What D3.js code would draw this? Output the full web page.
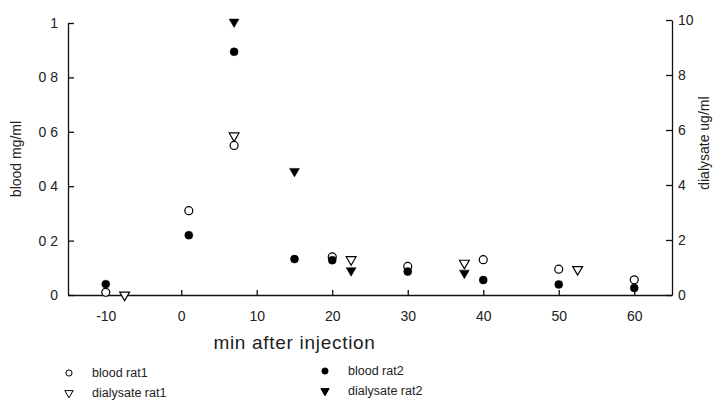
<!DOCTYPE html>
<html>
<head>
<meta charset="utf-8">
<script src="https://cdn.jsdelivr.net/npm/d3@7"></script>
<style>
  body { margin: 0; background: #fff; }
  text { font-family: "Liberation Sans", Arial, sans-serif; fill: #222; }
</style>
</head>
<body>
<div id="chart"></div>
<script>
// minutes after injection for each series
const bloodRat1X = [-10, 1, 7, 20, 30, 40, 50, 60];
const bloodRat1 = [0.01, 0.31, 0.55, 0.14, 0.105, 0.13, 0.095, 0.056];

const bloodRat2X = [-10, 1, 7, 15, 20, 30, 40, 50, 60];
const bloodRat2 = [0.04, 0.22, 0.894, 0.132, 0.128, 0.086, 0.055, 0.039, 0.026];

const dialRat1X = [-7.5, 7, 22.5, 37.5, 52.5];
const dialRat1 = [0, 5.79, 1.29, 1.16, 0.93];

const dialRat2X = [7, 15, 22.5, 37.5];
const dialRat2 = [9.93, 4.5, 0.89, 0.8];

const xTicks = [-10, 0, 10, 20, 30, 40, 50, 60];
const yLeftTicks = [0, 0.2, 0.4, 0.6, 0.8, 1];
const yLeftLabels = ["0", "0 2", "0 4", "0 6", "0 8", "1"];
const yRightTicks = [0, 2, 4, 6, 8, 10];

const legendNames = ["blood rat1", "blood rat2", "dialysate rat1", "dialysate rat2"];

const width = 716, height = 412;
const margin = {top: 23, right: 44, bottom: 117, left: 68};
const innerW = width - margin.left - margin.right;
const innerH = height - margin.top - margin.bottom;

const svg = d3.select("#chart").append("svg")
  .attr("width", width)
  .attr("height", height);

const g = svg.append("g")
  .attr("transform", `translate(${margin.left},${margin.top})`);

const x = d3.scaleLinear().domain([-15, 65]).range([0, innerW]);
const yL = d3.scaleLinear().domain([0, 1]).range([innerH, 0]);
const yR = d3.scaleLinear().domain([0, 10]).range([innerH, -3]);

// axes
const xAxis = g.append("g")
  .attr("transform", `translate(0,${innerH})`)
  .call(d3.axisBottom(x).tickValues(xTicks).tickFormat(d => String(d))
    .tickSize(-5).tickSizeOuter(0).tickPadding(16));

const leftAxis = g.append("g")
  .call(d3.axisLeft(yL).tickValues(yLeftTicks).tickFormat((d, i) => yLeftLabels[i])
    .tickSize(-6).tickSizeOuter(0).tickPadding(10));

const rightAxis = g.append("g")
  .attr("transform", `translate(${innerW},0)`)
  .call(d3.axisRight(yR).tickValues(yRightTicks).tickFormat(d => String(d))
    .tickSize(-6).tickSizeOuter(0).tickPadding(6));

[xAxis, leftAxis, rightAxis].forEach(a => {
  a.selectAll("path, line").attr("stroke", "#111").attr("stroke-width", 1.3);
  a.selectAll("text").attr("font-size", 14).attr("fill", "#222");
});

// axis labels
svg.append("text")
  .attr("transform", `translate(21,${margin.top + innerH * 0.5}) rotate(-90)`)
  .attr("text-anchor", "middle")
  .attr("font-size", 14)
  .text("blood mg/ml");

svg.append("text")
  .attr("transform", `translate(709,${margin.top + innerH * 0.46 - 5}) rotate(-90)`)
  .attr("text-anchor", "middle")
  .attr("font-size", 14)
  .text("dialysate ug/ml");

svg.append("text")
  .attr("x", margin.left + x(15))
  .attr("y", 349)
  .attr("text-anchor", "middle")
  .attr("font-size", 19)
  .attr("font-weight", 300)
  .attr("letter-spacing", 0.7)
  .attr("fill", "#333")
  .text("min after injection");

// markers
const circle = d3.symbol().type(d3.symbolCircle).size(50);
const tri = d3.symbol().type(d3.symbolTriangle).size(42);

function drawSeries(xs, ys, yScale, sym, filled, rotate) {
  g.append("g").selectAll("path")
    .data(xs.map((d, i) => ({x: d, y: ys[i]})))
    .join("path")
    .attr("d", sym)
    .attr("transform", d => `translate(${x(d.x)},${yScale(d.y)})${rotate ? " rotate(180)" : ""}`)
    .attr("fill", filled ? "#000" : "#fff")
    .attr("stroke", "#000")
    .attr("stroke-width", filled ? 0.5 : 1.2);
}

drawSeries(dialRat1X, dialRat1, yR, tri, false, true);
drawSeries(bloodRat1X, bloodRat1, yL, circle, false, false);
drawSeries(bloodRat2X, bloodRat2, yL, circle, true, false);
drawSeries(dialRat2X, dialRat2, yR, tri, true, true);

// legend
const legendSyms = [
  {type: d3.symbolCircle, filled: false, rot: false},
  {type: d3.symbolCircle, filled: true, rot: false},
  {type: d3.symbolTriangle, filled: false, rot: true},
  {type: d3.symbolTriangle, filled: true, rot: true}
];
const legend = svg.append("g");
legendNames.forEach((name, i) => {
  const col = i % 2, row = Math.floor(i / 2);
  const lx = col === 0 ? 69 : 325;
  const ly = (row === 0 ? 373 : 393) - (col === 1 ? 2 : 0);
  const s = legendSyms[i];
  legend.append("path")
    .attr("d", d3.symbol().type(s.type).size(30)())
    .attr("transform", `translate(${lx},${ly})${s.rot ? " rotate(180)" : ""}`)
    .attr("fill", s.filled ? "#000" : "#fff")
    .attr("stroke", "#000")
    .attr("stroke-width", 1);
  legend.append("text")
    .attr("x", lx + 23)
    .attr("y", ly + 4)
    .attr("font-size", 12.5)
    .text(name);
});
</script>
</body>
</html>
